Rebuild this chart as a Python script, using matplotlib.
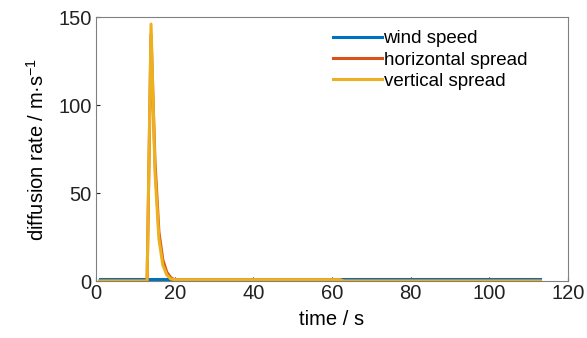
import matplotlib
matplotlib.use("Agg")
import matplotlib.pyplot as plt

plt.rcParams['font.family'] = ['Liberation Sans', 'DejaVu Sans']

# key points of each series (straight lines between them)
wind_t = [1, 113]
wind_v = [1.2, 1.2]

horiz_t = [1, 13, 14, 15, 16, 17, 18, 19, 20, 62, 63, 113]
horiz_v = [0, 0, 140, 68, 28, 12, 5, 2, 0.5, 0.5, 0, 0]

vert_t = [1, 13, 14, 15, 16, 17, 18, 19, 20, 62, 63, 113]
vert_v = [0, 0, 146, 62, 24, 9, 3.5, 1.2, 0.8, 0.8, 0, 0]

xticks = [0, 20, 40, 60, 80, 100, 120]
yticks = [0, 50, 100, 150]

fig = plt.figure(figsize=(5.87, 3.38), dpi=100)
ax = fig.add_axes([0.1635, 0.1686, 0.804, 0.781])

ax.plot(wind_t, wind_v, color='#0072BD', lw=2.2, label='wind speed')
ax.plot(horiz_t, horiz_v, color='#D95319', lw=2.2, label='horizontal spread')
ax.plot(vert_t, vert_v, color='#EDB120', lw=2.2, label='vertical spread')

ax.set_xlim(0, 120)
ax.set_ylim(0, 150)
ax.set_xticks(xticks)
ax.set_yticks(yticks)
ax.tick_params(direction='in', length=3, labelsize=14.5, colors='#222222', width=0.8, pad=2)
ax.tick_params(axis='y', pad=3)
for s in ax.spines.values():
    s.set_color('#808080')
    s.set_linewidth(0.8)

ax.set_xlabel('time / s', fontsize=14.5, labelpad=5)
ax.set_ylabel('diffusion rate / m·s$^{\\mathregular{-1}}$', fontsize=14.5, labelpad=8)

leg = ax.legend(loc='upper left', frameon=False, fontsize=13.5, handlelength=2.6,
                handletextpad=0.1, labelspacing=0.22, borderaxespad=0.0,
                borderpad=0.0, bbox_to_anchor=(0.502, 0.95))

fig.savefig('out.png', dpi=100, facecolor='white')
